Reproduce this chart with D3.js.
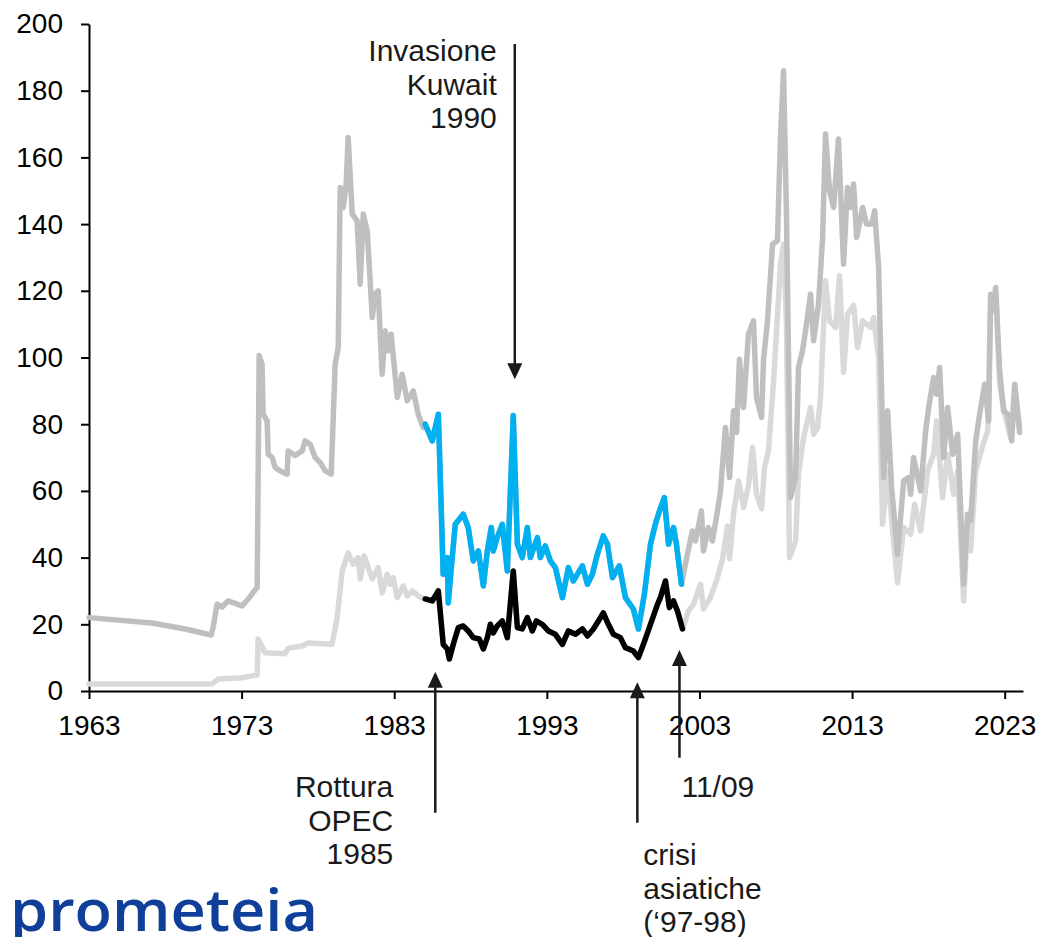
<!DOCTYPE html>
<html lang="it">
<head>
    <meta charset="UTF-8">
    <title>Prezzo del petrolio - reale e nominale</title>
    <script src="https://d3js.org/d3.v7.min.js"></script>
    <style>
        body { margin: 0; background: #fff; }
        svg { display: block; font-family: "Liberation Sans", Arial, sans-serif; }
        .axis path, .axis line { stroke: #000; stroke-width: 2px; }
        .axis text { font-size: 28px; fill: #000; }
        .series { fill: none; stroke-width: 5.5px; stroke-linejoin: round; stroke-linecap: round; }
        .note { font-size: 30px; fill: #1a1a1a; }
    </style>
</head>
<body>
<svg width="1041" height="937"></svg>
<script>
    // Real price (dark grey, blue where highlighted)
    const realYear = [1963.00, 1967.13, 1969.30, 1971.00, 1971.13, 1971.39, 1971.72, 1972.11, 1973.03, 1973.43,
        1973.75, 1974.02, 1974.15, 1974.34, 1974.41, 1974.67, 1974.74, 1975.00, 1975.20, 1975.52,
        1975.98, 1976.05, 1976.51, 1976.97, 1977.16, 1977.49, 1977.82, 1978.15, 1978.48, 1978.87,
        1979.13, 1979.33, 1979.46, 1979.66, 1979.85, 1979.98, 1980.25, 1980.57, 1980.77, 1980.97,
        1981.23, 1981.56, 1981.75, 1981.95, 1982.21, 1982.41, 1982.61, 1982.80, 1983.20, 1983.52,
        1983.85, 1984.25, 1984.57, 1984.90, 1985.03, 1985.49, 1985.89, 1986.21, 1986.48, 1986.54,
        1986.80, 1987.00, 1987.52, 1987.85, 1988.18, 1988.51, 1988.84, 1989.10, 1989.36, 1989.49,
        1989.75, 1990.08, 1990.41, 1990.80, 1991.07, 1991.39, 1991.72, 1991.92, 1992.38, 1992.57,
        1992.90, 1993.23, 1993.56, 1994.02, 1994.41, 1994.74, 1995.33, 1995.66, 1995.98, 1996.31,
        1996.70, 1996.97, 1997.30, 1997.75, 1998.15, 1998.67, 1999.00, 1999.39, 1999.79, 2000.11,
        2000.38, 2000.70, 2000.97, 2001.30, 2001.49, 2001.82, 2002.21, 2002.54, 2002.74, 2003.13,
        2003.26, 2003.59, 2003.85, 2004.18, 2004.38, 2004.70, 2004.97, 2005.23, 2005.43, 2005.62,
        2005.89, 2006.21, 2006.54, 2006.74, 2007.07, 2007.20, 2007.46, 2007.79, 2008.11, 2008.31,
        2008.51, 2008.70, 2008.97, 2009.30, 2009.49, 2009.75, 2009.95, 2010.28, 2010.48, 2010.80,
        2011.07, 2011.26, 2011.52, 2011.79, 2012.11, 2012.44, 2012.70, 2012.90, 2013.10, 2013.30,
        2013.69, 2013.95, 2014.28, 2014.48, 2014.74, 2015.07, 2015.33, 2015.59, 2015.98, 2016.38,
        2016.70, 2016.84, 2017.03, 2017.49, 2017.82, 2018.02, 2018.34, 2018.54, 2018.74, 2019.00,
        2019.26, 2019.59, 2019.92, 2020.31, 2020.57, 2020.77, 2021.10, 2021.36, 2021.69, 2021.95,
        2022.08, 2022.28, 2022.41, 2022.67, 2022.93, 2023.20, 2023.46, 2023.66, 2023.98];
    const realVal = [22, 20.4, 18.6, 16.8, 19, 26, 25.2, 27, 25.5, 27.6,
        29.5, 31, 100.6, 98, 83, 81, 71, 70, 67, 66,
        65, 72, 70.6, 72, 75, 74, 70, 68.5, 66, 65,
        98, 103, 151, 145, 152, 166, 143, 141, 122, 143,
        138, 112, 119, 120, 95, 108, 102, 107, 88, 95,
        87, 90, 83, 79, 80, 75, 83, 35, 40, 26.4,
        40, 50, 53, 49, 39, 42, 31.5, 42, 49, 42,
        46, 50, 36, 82.6, 44, 40, 49, 40, 46, 40,
        43.5, 39, 37, 28, 37, 33, 37.5, 32, 35, 41,
        46.5, 44, 34, 37.5, 28, 24.6, 18.6, 29, 44, 50,
        54, 58, 44, 49, 44, 32, 41, 48, 45, 54,
        42, 49, 45, 54, 60, 79, 64, 84, 77.5, 99.5,
        85, 107, 111, 88, 82, 99.5, 111, 134, 135, 166,
        186, 143, 58, 64, 97, 102, 108, 119, 105, 116,
        136, 167, 150, 145, 165.5, 128, 151, 145, 152, 136,
        145, 140, 140, 144, 127, 64, 84, 61, 41, 63,
        64, 59, 70, 60, 78, 85, 94, 89, 97, 70,
        85, 71, 77, 32, 53, 51, 75, 83, 92, 81,
        119, 114, 121, 96, 84, 83, 75, 92, 77.5];

    // Nominal price (light grey, black where highlighted)
    const nomYear = [1963.00, 1971.07, 1971.46, 1973.03, 1974.02, 1974.08, 1974.54, 1975.85, 1976.05, 1976.97,
        1977.36, 1978.93, 1979.26, 1979.59, 1979.98, 1980.31, 1980.64, 1980.77, 1981.03, 1981.30,
        1981.56, 1981.95, 1982.21, 1982.54, 1982.74, 1982.93, 1983.20, 1983.59, 1983.85, 1984.18,
        1984.57, 1984.90, 1985.03, 1985.49, 1985.89, 1986.21, 1986.48, 1986.61, 1986.87, 1987.20,
        1987.52, 1987.85, 1988.18, 1988.57, 1988.84, 1989.10, 1989.30, 1989.49, 1989.75, 1990.08,
        1990.41, 1990.80, 1991.07, 1991.39, 1991.72, 1992.05, 1992.31, 1992.70, 1993.10, 1993.56,
        1994.02, 1994.41, 1994.87, 1995.33, 1995.66, 1996.05, 1996.38, 1996.70, 1997.03, 1997.36,
        1997.82, 1998.15, 1998.67, 1999.00, 1999.33, 1999.79, 2000.25, 2000.44, 2000.77, 2001.03,
        2001.30, 2001.56, 2001.89, 2002.28, 2002.61, 2003.07, 2003.26, 2003.72, 2004.18, 2004.51,
        2004.84, 2004.97, 2005.23, 2005.56, 2005.89, 2006.21, 2006.48, 2006.74, 2007.07, 2007.26,
        2007.52, 2007.85, 2008.31, 2008.51, 2008.70, 2008.90, 2009.30, 2009.49, 2009.82, 2010.28,
        2010.48, 2010.74, 2010.93, 2011.26, 2011.52, 2011.92, 2012.18, 2012.44, 2012.70, 2013.10,
        2013.36, 2013.69, 2014.21, 2014.41, 2014.74, 2015.00, 2015.33, 2015.66, 2015.98, 2016.38,
        2016.84, 2017.10, 2017.49, 2017.95, 2018.34, 2018.54, 2018.93, 2019.26, 2019.66, 2019.92,
        2020.31, 2020.57, 2020.77, 2021.10, 2021.56, 2021.89, 2022.08, 2022.41, 2022.67, 2023.00,
        2023.39, 2023.66, 2023.98];
    const nomVal = [2.1, 2.1, 3.6, 4, 4.8, 15.6, 11.5, 11.2, 12.8, 13.5,
        14.4, 14, 22, 36, 41.4, 38, 40, 33.6, 40.5, 37,
        33.6, 37, 29.4, 35, 32, 34, 28, 31.5, 28.5, 30,
        28.5, 27.8, 27.6, 27, 30, 14, 12.6, 9.6, 14, 19,
        19.5, 18, 16, 15.6, 12.6, 16, 20, 17.4, 19.5, 21,
        16, 36, 19, 18.6, 22, 18, 21, 20, 18, 17,
        14, 18, 17, 18.6, 16.5, 18.6, 21, 23.4, 20, 17,
        16, 13, 12, 10, 14, 20, 26, 28, 33, 25,
        27, 24, 18.6, 24, 26, 32, 24.6, 28, 34, 39.6,
        49.5, 39.6, 53, 63, 55, 61.5, 73, 59, 54.7, 67,
        72, 92.5, 128, 134, 110, 40, 45, 65, 76, 85,
        77, 79, 88, 123, 111, 109, 124.6, 95.5, 113, 115.6,
        103, 111, 109, 112, 100, 50, 66, 48, 32.4, 49,
        47, 56, 48, 66, 71, 81, 58, 71, 59, 66,
        27, 51, 42, 66, 73.6, 78, 117, 119, 92, 83,
        76, 91, 79];

    // Highlighted period and tick labels
    const highlight = [1985.0, 2001.9];
    const xTicks = [1963, 1973, 1983, 1993, 2003, 2013, 2023];
    const yTicks = [0, 20, 40, 60, 80, 100, 120, 140, 160, 180, 200];

    // Annotations: year of the arrow, tip and tail in price units, text lines
    const notes = [
        { year: 1990.9, tip: 93.5, tail: 194, lines: ["Invasione", "Kuwait", "1990"], anchor: "end", dx: -18, y0: 61 },
        { year: 1985.69, tip: 5.8, tail: -36.5, lines: ["Rottura", "OPEC", "1985"], anchor: "end", dx: -42, y0: 797 },
        { year: 1998.93, tip: 2.6, tail: -39.5, lines: ["crisi", "asiatiche", "(\u201897-98)"], anchor: "start", dx: 6, y0: 865 },
        { year: 2001.69, tip: 12.3, tail: -20, lines: ["11/09"], anchor: "start", dx: 2, y0: 797 }
    ];

    const svg = d3.select("svg");
    const x = d3.scaleLinear().domain([1963, 2024.2]).range([89, 1023]);
    const y = d3.scaleLinear().domain([0, 200]).range([691, 24]);

    // Axes
    svg.append("g")
        .attr("class", "axis")
        .attr("transform", "translate(89,0)")
        .call(d3.axisLeft(y).tickValues(yTicks).tickSize(8).tickPadding(18).tickSizeOuter(0));

    svg.append("g")
        .attr("class", "axis")
        .attr("transform", "translate(0,691)")
        .call(d3.axisBottom(x).tickValues(xTicks).tickFormat(d3.format("d"))
            .tickSize(8).tickPadding(16).tickSizeOuter(0));

    const real = realYear.map((t, i) => ({ t, v: realVal[i] }));
    const nominal = nomYear.map((t, i) => ({ t, v: nomVal[i] }));
    const inRange = d => d.t >= highlight[0] && d.t <= highlight[1];

    const line = d3.line().x(d => x(d.t)).y(d => y(d.v));

    // Grey series, then the highlighted period on top
    svg.append("path").attr("class", "series").attr("stroke", "#d9d9d9").attr("d", line(nominal));
    svg.append("path").attr("class", "series").attr("stroke", "#bfbfbf").attr("d", line(real));
    svg.append("path").attr("class", "series").attr("stroke", "#00b0f0").attr("d", line(real.filter(inRange)));
    svg.append("path").attr("class", "series").attr("stroke", "#000").attr("d", line(nominal.filter(inRange)));

    // Arrows and notes
    notes.forEach(n => {
        const ax = x(n.year), tipY = y(n.tip), tailY = y(n.tail);
        const dir = tailY < tipY ? 1 : -1;   // 1 = pointing down
        const head = 16, half = 7.5;
        svg.append("line")
            .attr("x1", ax).attr("x2", ax)
            .attr("y1", tailY).attr("y2", tipY - dir * head + dir * 2)
            .attr("stroke", "#1a1a1a").attr("stroke-width", 2.5);
        svg.append("path")
            .attr("d", `M${ax},${tipY}L${ax - half},${tipY - dir * head}L${ax + half},${tipY - dir * head}Z`)
            .attr("fill", "#1a1a1a");
        const txt = svg.append("text").attr("class", "note").attr("text-anchor", n.anchor);
        n.lines.forEach((s, i) => {
            txt.append("tspan").attr("x", ax + n.dx).attr("y", n.y0 + i * 33.5).text(s);
        });
    });

    // Logo (its descenders are cut by the bottom edge, as in the original)
    svg.append("text")
        .attr("x", 10).attr("y", 931)
        .attr("textLength", 308).attr("lengthAdjust", "spacingAndGlyphs")
        .style("font-family", "'Open Sans', 'Noto Sans', sans-serif")
        .style("font-weight", 600).style("font-size", "58px")
        .attr("fill", "#0f3f99")
        .text("prometeia");
</script>
</body>
</html>
